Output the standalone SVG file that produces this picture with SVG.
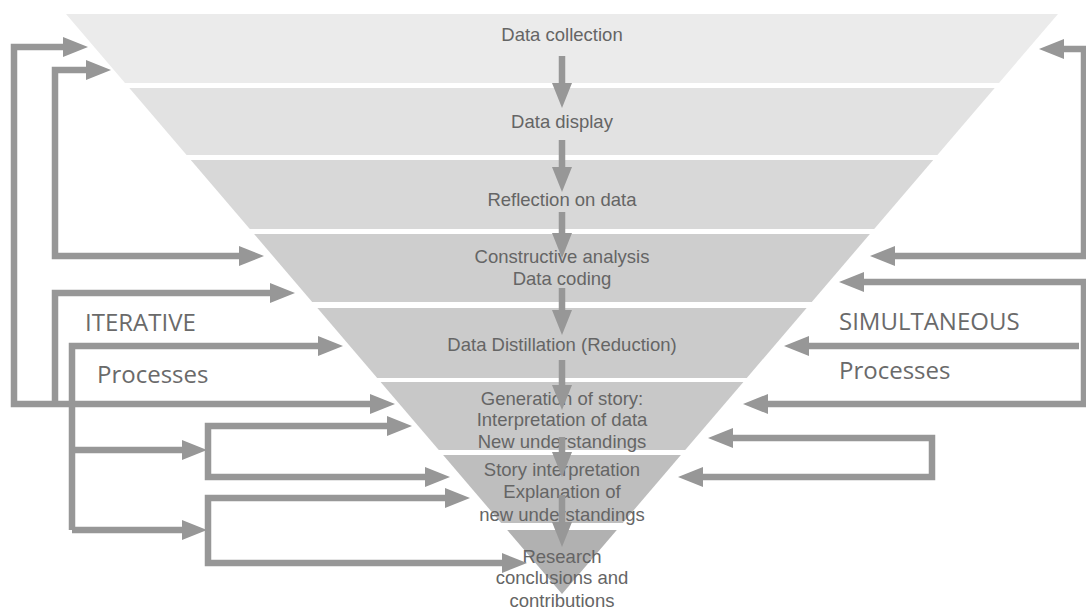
<svg xmlns="http://www.w3.org/2000/svg" width="1086" height="610" viewBox="0 0 1086 610">
  <defs>
    <marker id="head" markerUnits="userSpaceOnUse" markerWidth="25" markerHeight="20" viewBox="0 0 25 20" refX="5" refY="10" orient="auto-start-reverse">
      <path d="M0,0 L25,10 L0,20 z" fill="#979797"/>
    </marker>
    <style>
      .band { stroke: none; }
      .lbl { font-family: "Liberation Sans", Arial, sans-serif; font-size: 18.5px; fill: #656565; text-anchor: middle; }
      .side { font-family: "Open Sans", "Noto Sans", sans-serif; font-size: 24px; fill: #6a6a6a; }
      .conn { fill: none; stroke: #979797; stroke-width: 6.5; stroke-linejoin: miter; marker-end: url(#head); }
      .conn2 { marker-start: url(#head); }
    </style>
  </defs>
  <rect width="1086" height="610" fill="#ffffff"/>

  <!-- funnel stages, top to bottom -->
  <g id="stage-collection">
    <polygon class="band" points="66,14 1058,14 999,83 125,83" fill="#ebebeb"/>
    <text class="lbl" x="562" y="41">Data collection</text>
  </g>
  <g id="stage-display">
    <polygon class="band" points="129.3,88 994.7,88 937.4,155 186.6,155" fill="#e2e2e2"/>
    <text class="lbl" x="562" y="128">Data display</text>
  </g>
  <g id="stage-reflection">
    <polygon class="band" points="190.8,160 933.2,160 874.2,229 249.8,229" fill="#d8d8d8"/>
    <text class="lbl" x="562" y="206">Reflection on data</text>
  </g>
  <g id="stage-analysis">
    <polygon class="band" points="254.1,234 869.9,234 811.8,302 312.2,302" fill="#cecece"/>
    <text class="lbl" x="562" y="263">Constructive analysis</text>
    <text class="lbl" x="562" y="285">Data coding</text>
  </g>
  <g id="stage-distillation">
    <polygon class="band" points="317.4,308 806.6,308 746.8,378 377.2,378" fill="#cbcbcb"/>
    <text class="lbl" x="562" y="351">Data Distillation (Reduction)</text>
  </g>
  <g id="stage-story">
    <polygon class="band" points="380.6,382 743.4,382 685.2,450 438.8,450" fill="#c8c8c8"/>
    <text class="lbl" x="562" y="405">Generation of story:</text>
    <text class="lbl" x="562" y="426">Interpretation of data</text>
    <text class="lbl" x="562" y="448">New understandings</text>
  </g>
  <g id="stage-interpretation">
    <polygon class="band" points="443.1,455 680.9,455 622.8,523 501.2,523" fill="#bebebe"/>
    <text class="lbl" x="562" y="476">Story interpretation</text>
    <text class="lbl" x="562" y="498">Explanation of</text>
    <text class="lbl" x="562" y="521">new understandings</text>
  </g>
  <g id="stage-conclusions">
    <polygon class="band" points="507.2,530 616.8,530 562,594" fill="#b1b1b1"/>
    <text class="lbl" x="562" y="563">Research</text>
    <text class="lbl" x="562" y="584">conclusions and</text>
    <text class="lbl" x="562" y="607">contributions</text>
  </g>

  <!-- side captions -->
  <g id="caption-iterative">
    <text class="side" x="85" y="331">ITERATIVE</text>
    <text class="side" x="97" y="383">Processes</text>
  </g>
  <g id="caption-simultaneous">
    <text class="side" x="839" y="330">SIMULTANEOUS</text>
    <text class="side" x="839" y="379">Processes</text>
  </g>

  <g id="connectors">
    <!-- flow down the funnel -->
    <path class="conn" d="M562,56 V88"/>
    <path class="conn" d="M562,140 V172"/>
    <path class="conn" d="M562,212 V238"/>
    <path class="conn" d="M562,288 V315"/>
    <path class="conn" d="M562,360 V390"/>
    <path class="conn" d="M562,437 V457"/>
    <path class="conn" d="M562,495 V527"/>

    <!-- iterative loops (left) -->
    <path class="conn conn2" d="M68,47 H14 V404 H375"/>
    <path class="conn conn2" d="M91,70 H55 V256 H244"/>
    <path class="conn" d="M55,404 V293 H275"/>
    <path class="conn" d="M72,530 V346 H323"/>
    <path class="conn" d="M72,450 H187"/>
    <path class="conn" d="M72,530 H187"/>
    <path class="conn conn2" d="M392,426 H208 V477 H430"/>
    <path class="conn conn2" d="M450,498 H208 V563 H507"/>

    <!-- simultaneous loops (right) -->
    <path class="conn conn2" d="M1059,49 H1084 V256 H890"/>
    <path class="conn conn2" d="M859,282 H1084 V404 H763"/>
    <path class="conn" d="M1079,346 H804"/>
    <path class="conn conn2" d="M728,438 H932 V477 H698"/>
  </g>
</svg>
